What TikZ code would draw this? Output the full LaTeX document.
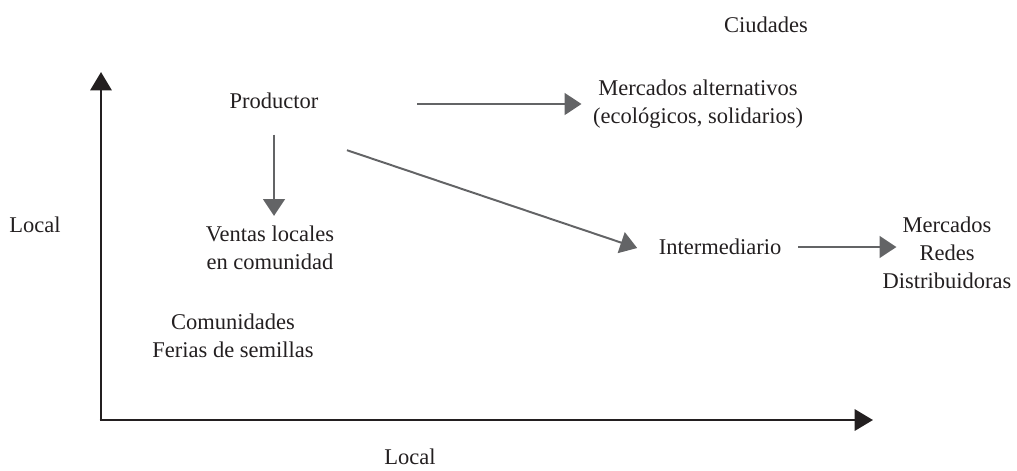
\documentclass[tikz,border=0pt]{standalone}
\usepackage{fontspec}
\setmainfont{Liberation Serif}
\usetikzlibrary{arrows.meta}
\definecolor{axisgray}{HTML}{231F20}
\definecolor{flowgray}{HTML}{636466}
\tikzset{
  lbl/.style={font=\fontsize{16}{20}\selectfont,text=axisgray,align=center,inner sep=0pt},
  flow/.style={line width=1.4pt,flowgray,-{Triangle[length=12pt,width=15.5pt]}},
  axis/.style={line width=1.9pt,axisgray,-{Triangle[length=13pt,width=15pt]}}
}
\begin{document}
\begin{tikzpicture}[x=0.025cm,y=-0.025cm]
\useasboundingbox (0,0) rectangle (1017,470);
% axes
\coordinate (o) at (101,420);
\coordinate (ytop) at (101,72);
\coordinate (xend) at (873,420);
\draw [axis] (o) -- (ytop);
\draw [axis] ([xshift=-0.95pt]o) -- (xend);
% labels
\node [lbl] (ciud) at (766,25) {Ciudades};
\node [lbl] (ylocal) at (35,225) {Local};
\node [lbl] (xlocal) at (410,457) {Local};
\node [lbl] (prod) at (274,101) {Productor};
\node [lbl] (alt) at (698,104) {Mercados alternativos\\(ecológicos, solidarios)};
\node [lbl] (ventas) at (270,248) {Ventas locales\\en comunidad};
\node [lbl] (inter) at (720,247) {Intermediario};
\node [lbl] (merc) at (947,253) {Mercados\\Redes\\Distribuidoras};
\node [lbl] (com) at (233,336) {Comunidades\\Ferias de semillas};
% flows
\draw [flow,shorten <=18pt,shorten >=7pt] (prod.south) -- (prod.south |- ventas.north);
\draw [flow,shorten <=70pt,shorten >=8pt] (prod.east |- alt.west) -- (alt.west);
\draw [flow,shorten >=16pt] ([shift={(73,41)}]prod.south) -- (inter.south west);
\draw [flow,shorten <=12pt,shorten >=-10pt] (inter.east) -- (merc.west |- inter.east);
\end{tikzpicture}
\end{document}
